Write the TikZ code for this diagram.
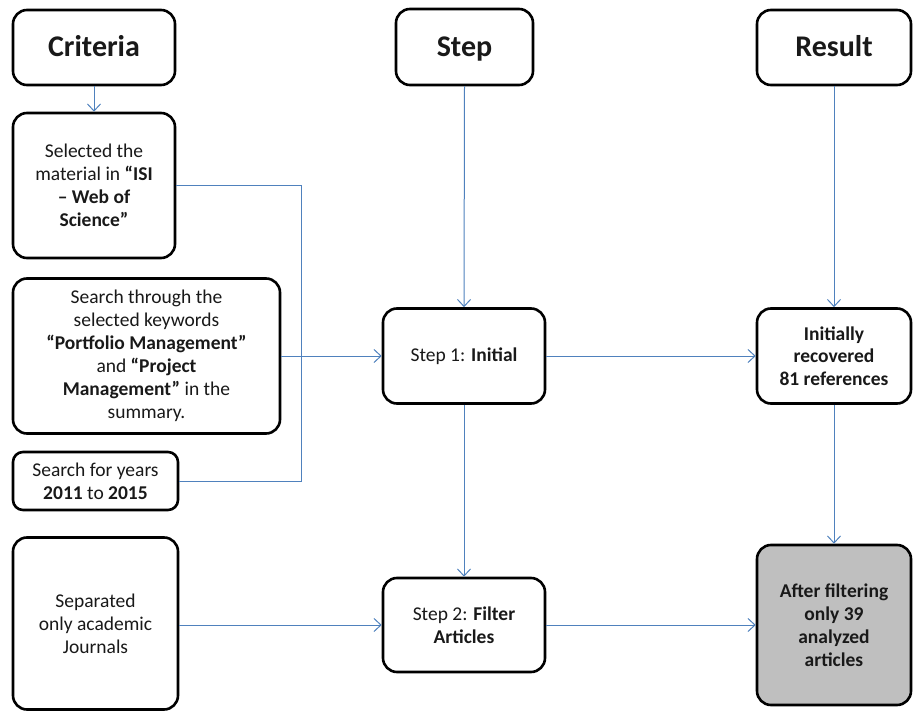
\documentclass[tikz,border=0pt]{standalone}
\usepackage{fontspec}
\setmainfont{Carlito}
\usetikzlibrary{arrows.meta}
\definecolor{linkblue}{RGB}{79,129,189}
\definecolor{txt}{RGB}{25,25,25}
\definecolor{fingray}{RGB}{191,191,191}
\tikzset{
  box/.style={draw=black, line width=2.6pt, rounded corners=14pt, fill=white, align=center, text=txt, inner sep=2pt,
    font=\fontsize{19.5}{23}\selectfont},
  head/.style={box, font=\fontsize{30}{34}\selectfont\bfseries, text height=23pt, text depth=4pt},
  conn/.style={draw=linkblue, line width=1pt},
  arr/.style={conn, -{Straight Barb[length=7pt,width=13pt,line width=1pt]}}
}
\begin{document}
\begin{tikzpicture}[x=1pt,y=-1pt]
\useasboundingbox (0,0) rectangle (913,711);
% headers
\node[head, minimum width=162pt, minimum height=75pt] (crit) at (94,47.5) {Criteria};
\node[head, minimum width=137pt, minimum height=76pt] (step) at (464.5,47) {Step};
\node[head, minimum width=154pt, minimum height=75pt] (res) at (834,47.5) {Result};
% criteria column
\node[box, minimum width=162pt, minimum height=145pt] (sel) at (94,185.5)
  {Selected the\\ material in \textbf{“ISI}\\ \textbf{– Web of}\\ \textbf{Science”}};
\node[box, minimum width=267pt, minimum height=155pt] (srch) at (146.5,356)
  {Search through the\\ selected keywords\\ \textbf{“Portfolio Management”}\\ and \textbf{“Project}\\ \textbf{Management”} in the\\ summary.};
\node[box, rounded corners=10pt, minimum width=165pt, minimum height=58pt] (yrs) at (95.5,481)
  {Search for years\\ \textbf{2011} to \textbf{2015}};
\node[box, minimum width=165pt, minimum height=172pt] (sep) at (95.5,623.5)
  {Separated\\ only academic\\ Journals};
% step column
\node[box, minimum width=162pt, minimum height=95pt] (s1) at (464,356) {Step 1: \textbf{Initial}};
\node[box, minimum width=162pt, minimum height=94pt] (s2) at (464,625) {Step 2: \textbf{Filter}\\ \textbf{Articles}};
% result column
\node[box, minimum width=154pt, minimum height=95pt, font=\fontsize{19.5}{22.5}\selectfont\bfseries] (ini) at (834,356)
  {Initially\\ recovered\\ 81 references};
\node[box, fill=fingray, minimum width=154pt, minimum height=160pt, font=\fontsize{19.5}{23}\selectfont\bfseries] (fin) at (834,625)
  {After filtering\\ only 39\\ analyzed\\ articles};
% connectors
\coordinate (bus) at (301,0);
\draw[arr] (crit.south) -- (sel.north);
\draw[conn] (sel.east) -| (bus |- yrs.east) -- (yrs.east);
\draw[arr] (srch.east) -- (s1.west);
\draw[arr] (sep.east |- s2.west) -- (s2.west);
\draw[arr] (step.south) -- (s1.north);
\draw[arr] (s1.south) -- (s2.north);
\draw[arr] (s1.east) -- (ini.west);
\draw[arr] (s2.east) -- (fin.west);
\draw[arr] (res.south) -- (ini.north);
\draw[arr] (ini.south) -- (fin.north);
\end{tikzpicture}
\end{document}
